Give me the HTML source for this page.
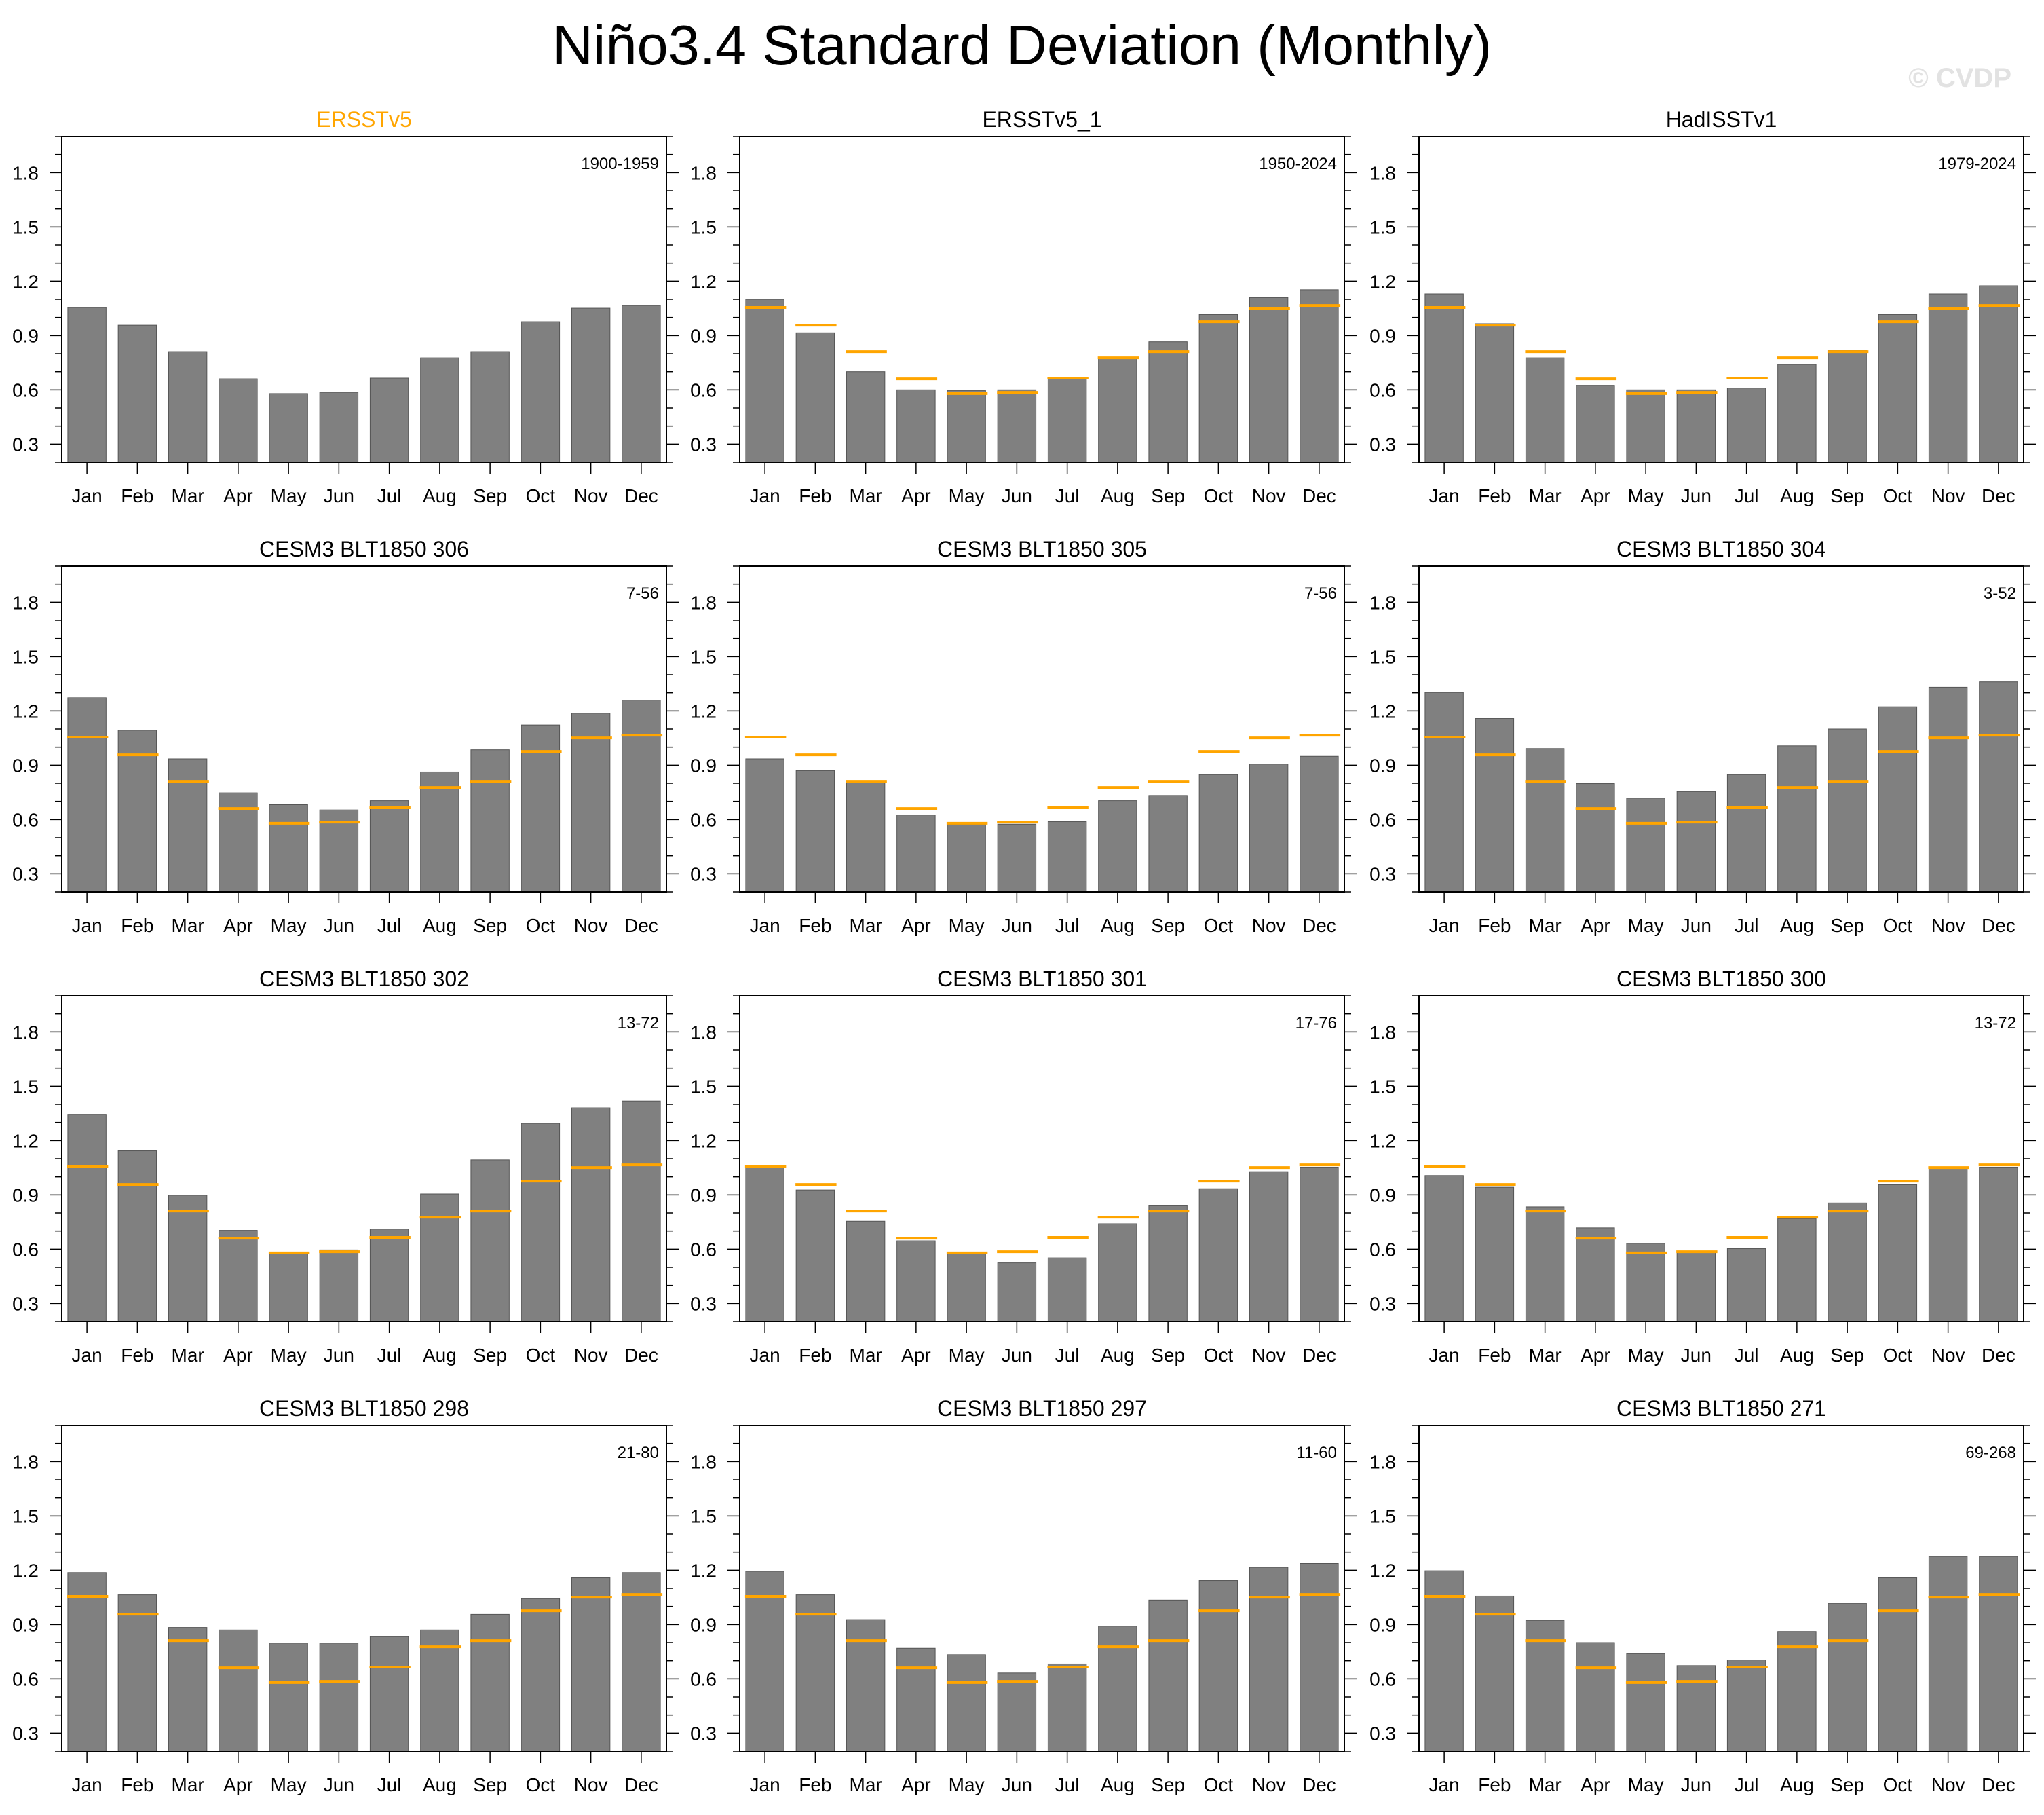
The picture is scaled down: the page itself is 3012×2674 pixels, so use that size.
<!DOCTYPE html>
<html><head><meta charset="utf-8"><style>
html,body{margin:0;padding:0;background:#fff}
svg{display:block;font-family:"Liberation Sans",sans-serif}
</style></head><body>
<svg id="chart" width="3012" height="2674" viewBox="0 0 3012 2674" xmlns="http://www.w3.org/2000/svg">
<text x="1506" y="95" text-anchor="middle" font-size="83" fill="#000">Niño3.4 Standard Deviation (Monthly)</text>
<text x="2964" y="128" text-anchor="end" font-size="40" font-weight="bold" fill="#e2e2e2">© CVDP</text>
</svg>
<script>
const months = ["Jan","Feb","Mar","Apr","May","Jun","Jul","Aug","Sep","Oct","Nov","Dec"];
const yTicks = [0.3,0.6,0.9,1.2,1.5,1.8];
const yTickLabels = ["0.3","0.6","0.9","1.2","1.5","1.8"];
const panelTitles = ["ERSSTv5","ERSSTv5_1","HadISSTv1","CESM3 BLT1850 306","CESM3 BLT1850 305","CESM3 BLT1850 304","CESM3 BLT1850 302","CESM3 BLT1850 301","CESM3 BLT1850 300","CESM3 BLT1850 298","CESM3 BLT1850 297","CESM3 BLT1850 271"];
const panelPeriods = ["1900-1959","1950-2024","1979-2024","7-56","7-56","3-52","13-72","17-76","13-72","21-80","11-60","69-268"];
const refValues = [1.055,0.957,0.811,0.661,0.579,0.586,0.665,0.777,0.811,0.976,1.051,1.066];
const vERSSTv5_1 = [1.10,0.915,0.70,0.60,0.597,0.60,0.67,0.777,0.865,1.016,1.11,1.153];
const vHadISST = [1.13,0.965,0.777,0.625,0.60,0.60,0.61,0.74,0.82,1.016,1.13,1.175];
const v306 = [1.273,1.093,0.935,0.747,0.682,0.653,0.704,0.862,0.985,1.122,1.187,1.259];
const v305 = [0.935,0.87,0.805,0.625,0.574,0.574,0.588,0.704,0.733,0.848,0.906,0.949];
const v304 = [1.302,1.158,0.992,0.798,0.718,0.754,0.848,1.007,1.10,1.223,1.331,1.36];
const v302 = [1.345,1.143,0.898,0.704,0.58,0.596,0.711,0.905,1.093,1.295,1.381,1.418];
const v301 = [1.05,0.927,0.754,0.646,0.58,0.524,0.552,0.74,0.84,0.934,1.028,1.05];
const v300 = [1.007,0.942,0.834,0.718,0.632,0.588,0.603,0.769,0.855,0.956,1.05,1.05];
const v298 = [1.187,1.064,0.884,0.87,0.797,0.797,0.833,0.87,0.956,1.043,1.158,1.187];
const v297 = [1.194,1.064,0.927,0.769,0.733,0.632,0.682,0.891,1.035,1.143,1.216,1.237];
const v271 = [1.197,1.057,0.923,0.80,0.739,0.673,0.704,0.861,1.017,1.158,1.276,1.276];
const panelSeries = [refValues,vERSSTv5_1,vHadISST,v306,v305,v304,v302,v301,v300,v298,v297,v271];

const NS="http://www.w3.org/2000/svg";
const svg=document.getElementById('chart');
const colX=[91,1090,2091], rowY=[201,834,1467,2100], PW=891, PH=480, YMIN=0.2, YMAX=2.0;
function mk(tag,attrs,parent){const e=document.createElementNS(NS,tag);for(const k in attrs)e.setAttribute(k,attrs[k]);parent.appendChild(e);return e;}
panelSeries.forEach((vals,p)=>{
  const x0=colX[p%3], y0=rowY[Math.floor(p/3)];
  const g=mk('g',{},svg);
  
  
  const xs=i=>x0+(i+0.5)*PW/12;
  const ys=v=>y0+PH-(v-YMIN)/(YMAX-YMIN)*PH;
  const bw=PW/12*0.76;
  vals.forEach((v,i)=>{
    const r=mk('rect',{x:xs(i)-bw/2,y:ys(v),width:bw,height:ys(YMIN)-ys(v),fill:'#808080',stroke:'#555','stroke-width':1},g);
    
    
  });
  if(p>0){refValues.forEach((v,i)=>{
    const l=mk('line',{x1:xs(i)-bw/2-1,x2:xs(i)+bw/2+3,y1:ys(v),y2:ys(v),stroke:'#ffa500','stroke-width':4},g);
    
    
  });}
  const fr=mk('rect',{x:x0,y:y0,width:PW,height:PH,fill:'none',stroke:'#000','stroke-width':2},g);
  
  
  for(let k=2;k<=20;k++){const v=k/10;const yy=ys(v);const major=yTicks.some(t=>Math.abs(t-v)<1e-6);const L=major?18:10;
    mk('line',{x1:x0-L,x2:x0,y1:yy,y2:yy,stroke:'#000','stroke-width':1.5},g);
    mk('line',{x1:x0+PW,x2:x0+PW+L,y1:yy,y2:yy,stroke:'#000','stroke-width':1.5},g);}
  yTicks.forEach((t,k)=>{const tx=mk('text',{x:x0-34,y:ys(t)+10,'text-anchor':'end','font-size':28,fill:'#000'},g);tx.textContent=yTickLabels[k];
    
    });
  months.forEach((m,i)=>{mk('line',{x1:xs(i),x2:xs(i),y1:y0+PH,y2:y0+PH+17,stroke:'#000','stroke-width':1.5},g);
    const tx=mk('text',{x:xs(i),y:y0+PH+59,'text-anchor':'middle','font-size':28,fill:'#000'},g);tx.textContent=m;
    
    });
  const ti=mk('text',{x:x0+PW/2,y:y0-14,'text-anchor':'middle','font-size':32,fill:p===0?'#ffa500':'#000'},g);ti.textContent=panelTitles[p];
  
  
  const pe=mk('text',{x:x0+PW-11,y:y0+48,'text-anchor':'end','font-size':24,fill:'#000'},g);pe.textContent=panelPeriods[p];
  
  
});
</script>
</body></html>
